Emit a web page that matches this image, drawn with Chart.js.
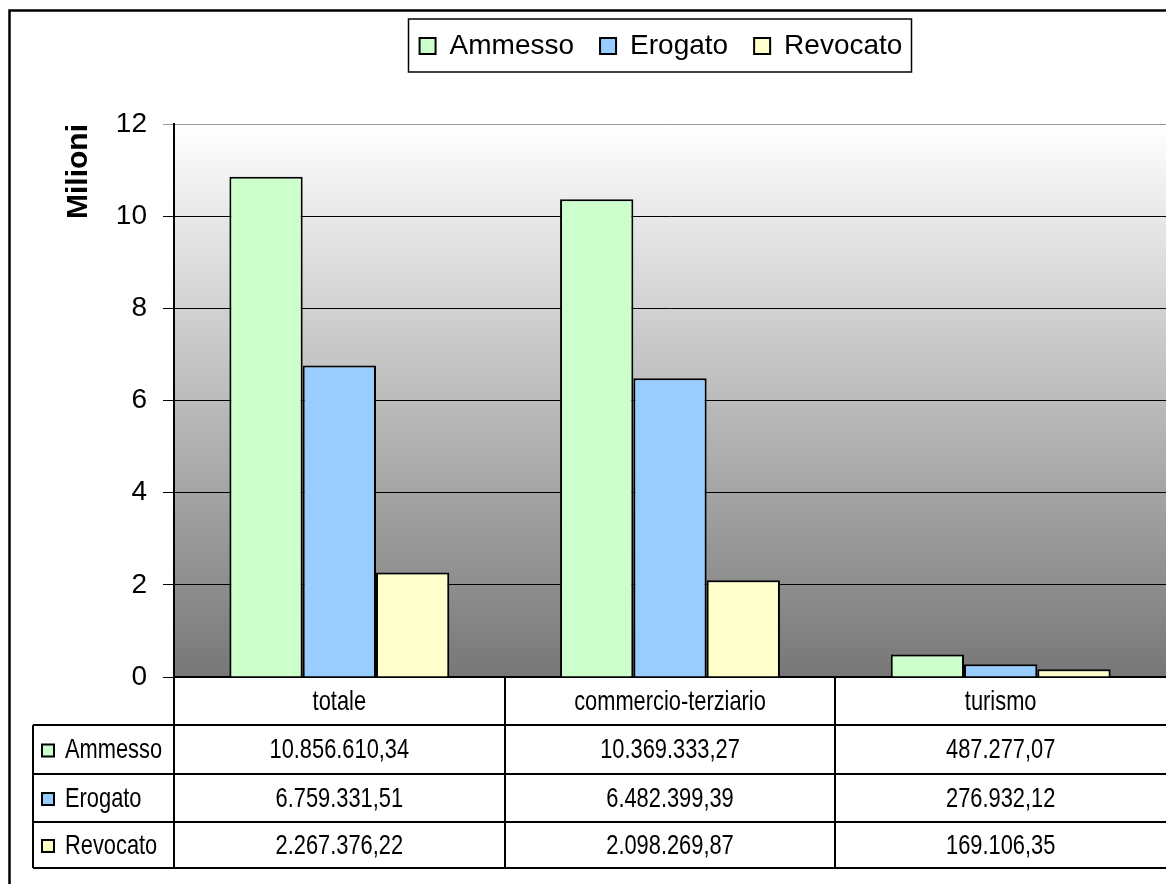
<!DOCTYPE html>
<html lang="it">
<head>
<meta charset="UTF-8">
<title>Ammesso, Erogato, Revocato</title>
<script src="https://cdn.jsdelivr.net/npm/chart.js"></script>
<style>
  html, body { margin: 0; padding: 0; background: #fff; overflow: hidden; }
  #wrap { width: 1166px; height: 884px; }
</style>
</head>
<body>
<div id="wrap"><canvas id="chart" width="1166" height="884"></canvas></div>
<script>
// dati (euro)
const categorie = ['totale', 'commercio-terziario', 'turismo'];
const serie = ['Ammesso', 'Erogato', 'Revocato'];
const ammesso = [10856610.34, 10369333.27, 487277.07];
const erogato = [6759331.51, 6482399.39, 276932.12];
const revocato = [2267376.22, 2098269.87, 169106.35];
const colori = ['#ccffcc', '#99ccff', '#ffffcc'];
const yMin = 0, yMax = 12, yStep = 2;

const valori = [ammesso, erogato, revocato];
const FONT = '"Liberation Sans", Arial, sans-serif';
Chart.defaults.font.family = FONT;
Chart.defaults.color = '#000';

// 10856610.34 -> "10.856.610,34"
function formatIt(v) {
  const [int, dec] = v.toFixed(2).split('.');
  return int.replace(/\B(?=(\d{3})+(?!\d))/g, '.') + ',' + dec;
}

// sfondo sfumato dell'area del grafico
const sfondo = {
  id: 'sfondo',
  beforeDraw(chart) {
    const { ctx, chartArea: a } = chart;
    const g = ctx.createLinearGradient(0, a.top, 0, a.bottom);
    g.addColorStop(0, '#ffffff');
    g.addColorStop(1, '#777777');
    ctx.save();
    ctx.fillStyle = g;
    ctx.fillRect(a.left, a.top, a.right - a.left, a.bottom - a.top);
    ctx.restore();
  }
};

// riquadro attorno alla legenda
const legendaBox = {
  id: 'legendaBox',
  afterLayout(chart) {
    chart.legend.left -= 9;
    chart.legend.right -= 9;
  },
  afterDraw(chart) {
    const ctx = chart.ctx;
    const boxes = chart.legend.legendHitBoxes;
    if (!boxes || !boxes.length) return;
    const first = boxes[0], last = boxes[boxes.length - 1];
    const l = first.left - 12, r = last.left + last.width + 8;
    ctx.save();
    ctx.strokeStyle = '#000';
    ctx.lineWidth = 1.5;
    ctx.strokeRect(Math.round(l) + 0.5, first.top - 13, Math.round(r - l), first.height + 25);
    ctx.restore();
  }
};

// tabella dati sotto l'asse x + bordo esterno
const tabella = {
  id: 'tabella',
  afterDraw(chart) {
    const { ctx, chartArea: a, scales: { x } } = chart;
    const w = x.getPixelForValue(1) - x.getPixelForValue(0);
    const righe = [a.bottom, a.bottom + 48, a.bottom + 97, a.bottom + 145, a.bottom + 191];
    const sinistra = 33;

    ctx.save();
    ctx.strokeStyle = '#000';
    ctx.lineWidth = 2;
    ctx.beginPath();
    for (let r = 1; r < righe.length; r++) {
      ctx.moveTo(sinistra, righe[r]);
      ctx.lineTo(a.right, righe[r]);
    }
    ctx.moveTo(sinistra, righe[1]);
    ctx.lineTo(sinistra, righe[4]);
    categorie.forEach((c, i) => {
      const xl = Math.round(x.getPixelForValue(i) - w / 2);
      ctx.moveTo(xl, a.bottom);
      ctx.lineTo(xl, righe[4]);
    });
    ctx.stroke();

    // testo stretto, come in Excel
    ctx.font = '28px ' + FONT;
    ctx.fillStyle = '#000';
    ctx.textBaseline = 'middle';
    const testo = (t, px, py, align) => {
      ctx.save();
      ctx.translate(px, py);
      ctx.scale(0.78, 1);
      ctx.textAlign = align;
      ctx.fillText(t, 0, 0);
      ctx.restore();
    };

    categorie.forEach((c, i) => testo(c, x.getPixelForValue(i), (righe[0] + righe[1]) / 2 + 1, 'center'));

    serie.forEach((s, k) => {
      const cy = (righe[k + 1] + righe[k + 2]) / 2 + 1;
      ctx.fillStyle = colori[k];
      ctx.fillRect(42, cy - 6, 12, 12);
      ctx.lineWidth = 2;
      ctx.strokeRect(42, cy - 6, 12, 12);
      ctx.fillStyle = '#000';
      testo(s, 65, cy, 'left');
      valori[k].forEach((v, i) => testo(formatIt(v), x.getPixelForValue(i), cy, 'center'));
    });

    // bordo del grafico
    ctx.lineWidth = 2.5;
    ctx.strokeRect(9.5, 10.5, 1400, 1000);
    ctx.restore();
  }
};

new Chart(document.getElementById('chart'), {
  type: 'bar',
  data: {
    labels: categorie,
    datasets: valori.map((vals, i) => ({
      label: serie[i],
      data: vals.map(v => v / 1e6),
      backgroundColor: colori[i],
      borderColor: '#000',
      borderWidth: 2,
      categoryPercentage: 0.665,
      barPercentage: 1
    }))
  },
  options: {
    responsive: false,
    animation: false,
    devicePixelRatio: 1,
    layout: { padding: { top: 6, left: 0, right: 0, bottom: 0 } },
    plugins: {
      legend: {
        position: 'top',
        fullSize: false,
        labels: { font: { size: 28 }, color: '#000', boxWidth: 16, boxHeight: 16, padding: 26 }
      },
      // solo spazio vuoto tra legenda e grafico
      title: { display: true, text: '', weight: 500, font: { size: 10 }, padding: { top: 42, bottom: 0 } },
      tooltip: { enabled: false }
    },
    scales: {
      x: {
        ticks: { display: false },
        grid: { display: false },
        border: { color: '#000', width: 2 },
        afterFit: s => { s.height = 207; }
      },
      y: {
        min: yMin,
        max: yMax,
        ticks: { stepSize: yStep, font: { size: 28 }, color: '#000', padding: 16 },
        grid: {
          color: c => (c.tick && c.tick.value === yMax ? '#999' : '#000'),
          lineWidth: 1,
          tickLength: 11
        },
        border: { color: '#000', width: 2 },
        title: {
          display: true,
          text: 'Milioni',
          font: { size: 30, weight: 'bold' },
          color: '#000',
          align: 'end',
          padding: { top: 61, bottom: 0 }
        },
        afterFit: s => { s.width = 174; }
      }
    }
  },
  plugins: [sfondo, legendaBox, tabella]
});
</script>
</body>
</html>
